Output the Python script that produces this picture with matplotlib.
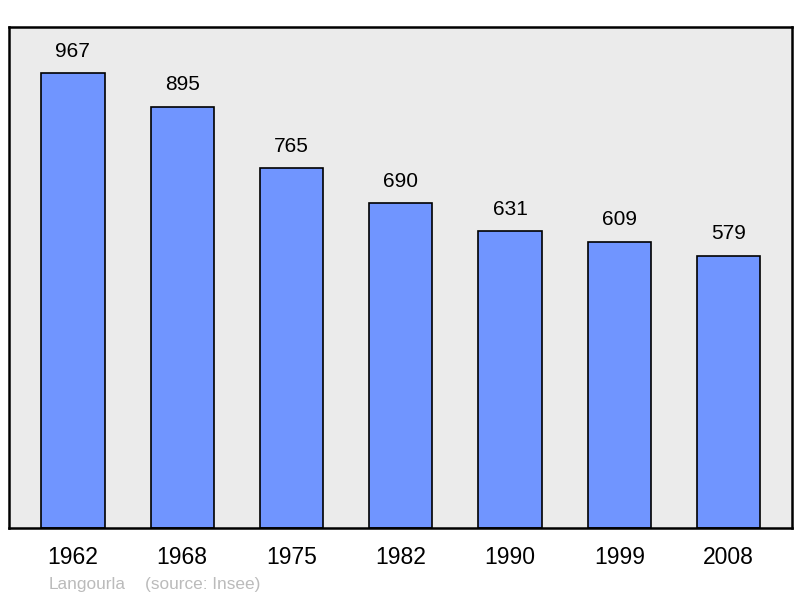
import matplotlib
matplotlib.use("Agg")
from matplotlib import pyplot as plt

years = ["1962", "1968", "1975", "1982", "1990", "1999", "2008"]
population = [967, 895, 765, 690, 631, 609, 579]
place = "Langourla"
source = "(source: Insee)"

plt.rcParams['font.family'] = ['Liberation Sans', 'DejaVu Sans']

fig = plt.figure(figsize=(8, 5.98), dpi=100)
ax = fig.add_axes([9/800, 70/598, 783/800, 501/598])
ax.set_facecolor("#ebebeb")

xs = list(range(len(years)))
ax.bar(xs, population, width=0.58, color="#7095ff", edgecolor="black", linewidth=1.2, zorder=2)

for x, v in zip(xs, population):
    ax.annotate(str(v), (x, v), xytext=(0, 9), textcoords="offset points",
                ha="center", va="bottom", fontsize=15)

ax.set_xlim(-0.585, 6.58)
ax.set_ylim(0, 1065)
ax.set_yticks([])
ax.set_xticks(xs)
ax.set_xticklabels(years, fontsize=16.5)
ax.tick_params(axis="x", length=0, pad=13)
for s in ax.spines.values():
    s.set_linewidth(1.8)

fig.text(49/800, 1 - 584/598, place, fontsize=12.4, color="#bbbbbb", va="center")
fig.text(145/800, 1 - 584/598, source, fontsize=12.4, color="#bbbbbb", va="center")

fig.savefig("out.png", dpi=100)
